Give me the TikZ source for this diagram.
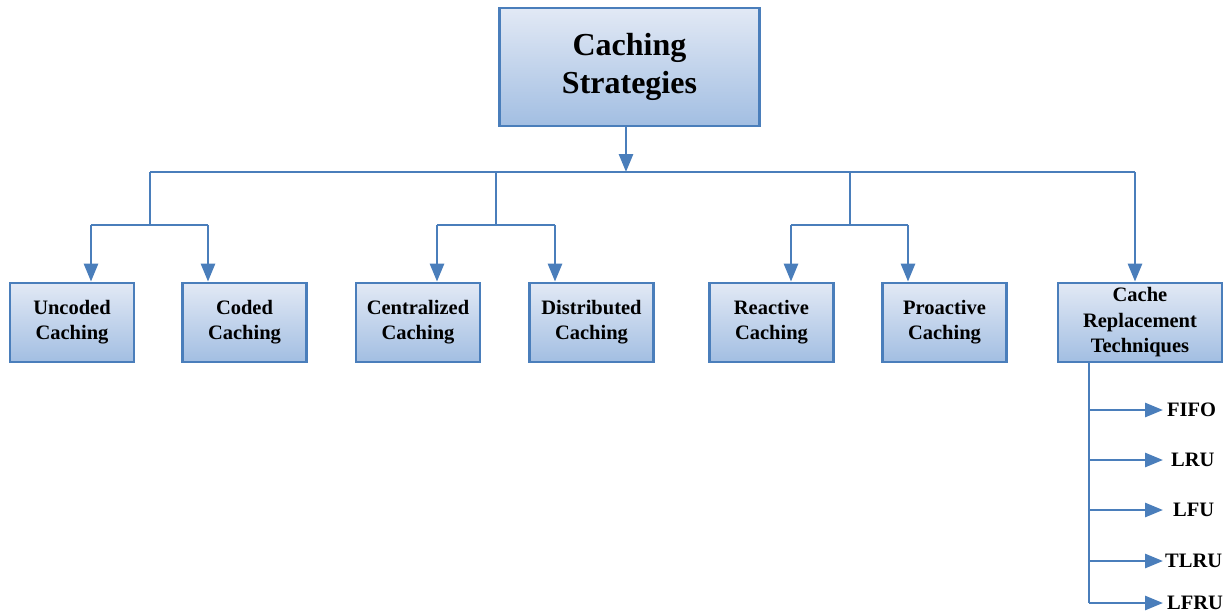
\documentclass[tikz,border=0pt]{standalone}
\usepackage{fontspec}
\setmainfont{Liberation Serif}
\usetikzlibrary{arrows.meta}
\definecolor{boxborder}{HTML}{4A7EBB}
\definecolor{linec}{HTML}{4A7EBB}
\definecolor{boxtop}{HTML}{E2E9F5}
\definecolor{boxbot}{HTML}{A2BEE2}
\begin{document}
\begin{tikzpicture}[x=1pt,y=-1pt,
  box/.style={draw=boxborder,line width=2.8pt,top color=boxtop,bottom color=boxbot,
    align=center,font=\bfseries\fontsize{20.5}{25}\selectfont,inner sep=0pt,
    minimum width=124pt,minimum height=79pt},
  conn/.style={draw=linec,line width=2.8pt},
  arr/.style={conn,-{Triangle[length=18pt,width=14pt]}},
  leaf/.style={font=\bfseries\fontsize{20.5}{25}\selectfont,inner sep=0pt,anchor=west}]
\useasboundingbox (0,0) rectangle (1232,614);

\node[box,minimum width=260pt,minimum height=118pt,font=\bfseries\fontsize{32}{38}\selectfont] (root) at (629.5,67) {Caching\\Strategies};

\node[box] (unc) at (72,322.5) {Uncoded\\Caching};
\node[box] (cod) at (244.5,322.5) {Coded\\Caching};
\node[box] (cen) at (418,322.5) {Centralized\\Caching};
\node[box] (dis) at (591.5,322.5) {Distributed\\Caching};
\node[box] (rea) at (771.5,322.5) {Reactive\\Caching};
\node[box] (pro) at (944.5,322.5) {Proactive\\Caching};
\node[box,minimum width=164pt,font=\bfseries\fontsize{20.5}{25.5}\selectfont] (crt) at (1140,322.5) {Cache\\Replacement\\Techniques};

% junctions
\coordinate (top) at (626,172);
\coordinate (hL) at (150,172);
\coordinate (hR) at (1135,172);
\coordinate (j1) at (150,172);
\coordinate (j2) at (496,172);
\coordinate (j3) at (850,172);
\coordinate (k1) at (150,225);
\coordinate (k2) at (496,225);
\coordinate (k3) at (850,225);
\coordinate (a1) at (91,225);
\coordinate (b1) at (208,225);
\coordinate (a2) at (437,225);
\coordinate (b2) at (555,225);
\coordinate (a3) at (791,225);
\coordinate (b3) at (908,225);

\draw[arr] (root.south -| top) -- (top);
\draw[conn] (hL) -- (hR);
\draw[conn] (j1) -- (k1);
\draw[conn] (j2) -- (k2);
\draw[conn] (j3) -- (k3);
\draw[conn] (a1) -- (b1);
\draw[conn] (a2) -- (b2);
\draw[conn] (a3) -- (b3);
\draw[arr] (a1) -- (a1 |- unc.north);
\draw[arr] (b1) -- (b1 |- cod.north);
\draw[arr] (a2) -- (a2 |- cen.north);
\draw[arr] (b2) -- (b2 |- dis.north);
\draw[arr] (a3) -- (a3 |- rea.north);
\draw[arr] (b3) -- (b3 |- pro.north);
\draw[arr] (hR) -- (hR |- crt.north);

% replacement techniques
\node[leaf] (fifo) at (1167,410) {FIFO};
\node[leaf] (lru) at (1171,460) {LRU};
\node[leaf] (lfu) at (1173,510) {LFU};
\node[leaf] (tlru) at (1165,561) {TLRU};
\node[leaf] (lfru) at (1167,603) {LFRU};
\coordinate (vt) at (1089,362);
\coordinate (vb) at (1089,603);
\draw[conn] (vt |- crt.south) -- (vb);
\draw[arr] (vt |- fifo) -- (1163,410);
\draw[arr] (vt |- lru) -- (1163,460);
\draw[arr] (vt |- lfu) -- (1163,510);
\draw[arr] (vt |- tlru) -- (1163,561);
\draw[arr] (vb) -- (1163,603);
\end{tikzpicture}
\end{document}
